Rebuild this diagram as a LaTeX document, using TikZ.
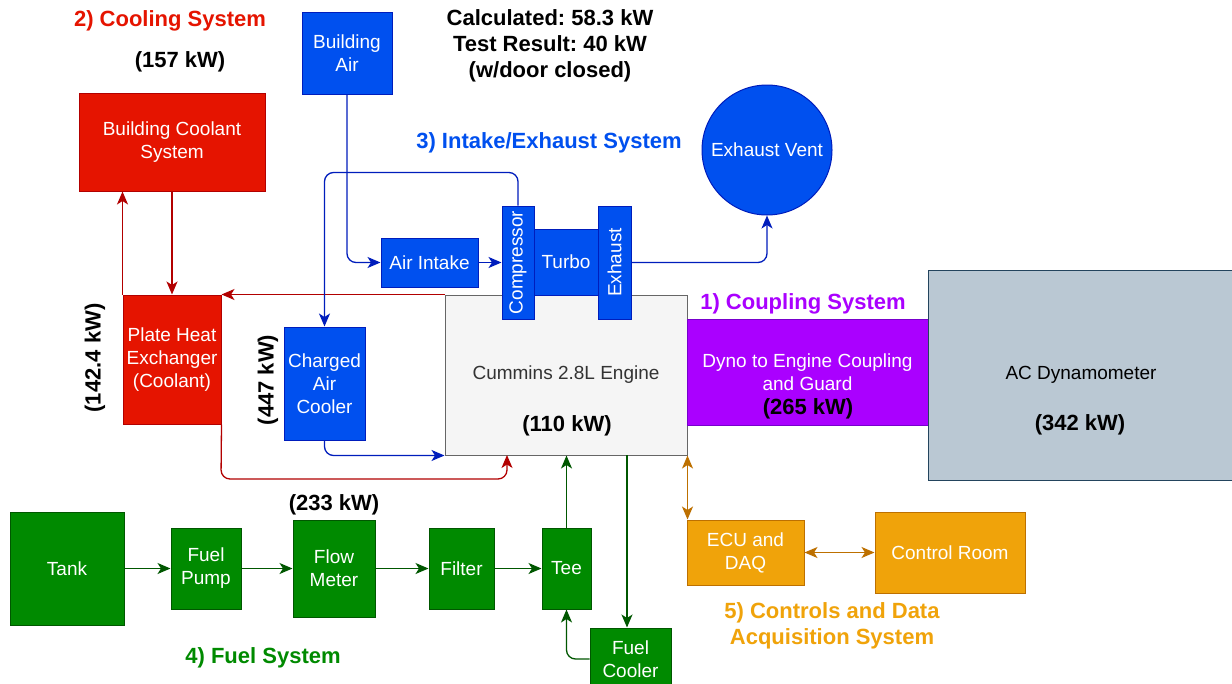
\documentclass[tikz,border=0pt]{standalone}
\usepackage{fontspec}
\setmainfont{Liberation Sans}
\usepackage{graphicx}
\usetikzlibrary{arrows.meta,positioning}
\definecolor{coolfill}{HTML}{E51400}
\definecolor{coolline}{HTML}{B20000}
\definecolor{airfill}{HTML}{0050EF}
\definecolor{airline}{HTML}{001DBC}
\definecolor{fuelfill}{HTML}{008A00}
\definecolor{fuelline}{HTML}{005700}
\definecolor{ctrlfill}{HTML}{F0A30A}
\definecolor{ctrlline}{HTML}{BD7000}
\definecolor{coupfill}{HTML}{AA00FF}
\definecolor{coupline}{HTML}{7700CC}
\definecolor{engfill}{HTML}{F5F5F5}
\definecolor{engline}{HTML}{666666}
\definecolor{engtext}{HTML}{333333}
\definecolor{dynofill}{HTML}{BAC8D3}
\definecolor{dynoline}{HTML}{23445D}
\newcommand{\BoxFont}{\fontsize{19}{23}\selectfont}
\newcommand{\HeadFont}{\fontsize{22}{26}\selectfont\bfseries}
\frenchspacing

\begin{document}
\begin{tikzpicture}[x=1pt,y=-1pt
        ,box/.style = {draw,rectangle,line width=1pt,inner sep=2pt,align=center,font=\BoxFont,text=white}
        ,coolbox/.style = {box,fill=coolfill,draw=coolline}
        ,airbox/.style = {box,fill=airfill,draw=airline}
        ,fuelbox/.style = {box,fill=fuelfill,draw=fuelline}
        ,ctrlbox/.style = {box,fill=ctrlfill,draw=ctrlline}
        ,flow/.style = {-{Stealth[length=13pt,width=11pt,inset=3.5pt]},line width=1.3pt,rounded corners=9pt}
        ,both/.style = {{Stealth[length=13pt,width=11pt,inset=3.5pt]}-{Stealth[length=13pt,width=11pt,inset=3.5pt]},line width=1.3pt}
        ,legend/.style = {font=\HeadFont,align=center}
      ]
      \path[use as bounding box,fill=white] (0,0) rectangle (1232,683);

      % 2) cooling
      \node[legend,text=coolfill](cooltitle) at (170,21) {2) Cooling System};
      \node[legend](coolkw) at (180,62) {(157 kW)};
      \node[coolbox,minimum width=186pt,minimum height=98pt](coolant) at (172,142) {Building Coolant\\System};
      \node[coolbox,minimum width=98pt,minimum height=129pt](phe) at (172,359.5) {Plate Heat\\Exchanger\\(Coolant)};
      \node[legend,rotate=90](phekw) at (95,358) {(142.4 kW)};

      % engine, coupling, dyno
      \node[box,fill=engfill,draw=engline,text=engtext,minimum width=242pt,minimum height=160pt](engine) at (566,375) {Cummins 2.8L Engine};
      \node[legend](engkw) at (567,426) {(110 kW)};
      \node[legend,text=coupfill](couptitle) at (803,304) {1) Coupling System};
      \node[box,fill=coupfill,draw=coupline,minimum width=241pt,minimum height=106pt](coupling) at (807.5,372) {Dyno to Engine Coupling\\and Guard};
      \node[legend](coupkw) at (808,409) {(265 kW)};
      \node[box,fill=dynofill,draw=dynoline,text=black,minimum width=306pt,minimum height=210pt](dyno) at (1081,375) {AC Dynamometer};
      \node[legend](dynokw) at (1080,425) {(342 kW)};

      % 3) intake/exhaust
      \node[airbox,minimum width=90pt,minimum height=82pt](bair) at (347,53) {Building\\Air};
      \node[legend](airnote) at (550,46) {Calculated: 58.3 kW\\Test Result: 40 kW\\(w/door closed)};
      \node[legend,text=airfill](airtitle) at (549,143) {3) Intake/Exhaust System};
      \node[airbox,minimum width=97pt,minimum height=49pt](intake) at (429.5,262.5) {Air Intake};
      \node[airbox,minimum width=64pt,minimum height=66pt](turbo) at (566,262) {Turbo};
      \node[airbox,minimum width=32pt,minimum height=113pt](comp) at (518,262.5) {\rotatebox{90}{Compressor}};
      \node[airbox,minimum width=33pt,minimum height=113pt](exh) at (614.5,262.5) {\rotatebox{90}{Exhaust}};
      \node[airbox,circle,minimum size=130pt](vent) at (767,150) {Exhaust Vent};
      \node[airbox,minimum width=81pt,minimum height=113pt](cac) at (324.5,383.5) {Charged\\Air\\Cooler};
      \node[legend,rotate=90](cackw) at (268,380) {(447 kW)};

      % 4) fuel
      \node[fuelbox,minimum width=114pt,minimum height=113pt](tank) at (67,568.5) {Tank};
      \node[fuelbox,minimum width=70pt,minimum height=81pt](pump) [right=46pt of tank] {Fuel\\Pump};
      \node[fuelbox,minimum width=82pt,minimum height=97pt](meter) [right=51pt of pump] {Flow\\Meter};
      \node[legend](meterkw) at (334,505) {(233 kW)};
      \node[fuelbox,minimum width=65pt,minimum height=81pt](filter) [right=53pt of meter] {Filter};
      \node[fuelbox,minimum width=49pt,minimum height=81pt](tee) [right=47pt of filter] {Tee};
      \node[fuelbox,minimum width=81pt,minimum height=62pt](fcool) at (630.5,659) {Fuel\\Cooler};
      \node[legend,text=fuelfill](fueltitle) at (263,658) {4) Fuel System};

      % 5) controls
      \node[ctrlbox,minimum width=117pt,minimum height=65pt](ecu) at (745.5,552.5) {ECU and\\DAQ};
      \node[ctrlbox,minimum width=150pt,minimum height=81pt](croom) at (950,552.5) {Control Room};
      \node[legend,text=ctrlfill](ctrltitle) at (832,625.5) {5) Controls and Data\\Acquisition System};

      \coordinate(coolret) at (507,455);
      \coordinate(coolbend) at (221,479);
      \coordinate(fuelout) at (627,455);

      % coolant loop
      \draw[flow,coolline] (coolant.south) -- (phe.north);
      \draw[flow,coolline] (phe.north west) -- (phe.north west |- coolant.south);
      \draw[flow,coolline] (engine.north west) -- (phe.north east);
      \draw[flow,coolline] (phe.south east) -- (coolbend) -| (coolret);

      % air path
      \draw[flow,airline] (bair.south) |- (intake.west);
      \draw[flow,airline] (intake.east) -- (comp.west |- intake.east);
      \draw[flow,airline] (comp.north) -- ++(0,-33) -| (cac.north);
      \draw[flow,airline] (cac.south) |- (engine.south west);
      \draw[flow,airline] (exh.east) -| (vent.south);

      % fuel path
      \foreach \a/\b in {tank/pump,pump/meter,meter/filter,filter/tee}
        \draw[flow,fuelline] (\a) -- (\b);
      \draw[flow,fuelline] (tee.north) -- (tee.north |- engine.south);
      \draw[flow,fuelline] (fuelout) -- (fuelout |- fcool.north);
      \draw[flow,fuelline] (fcool.west) -| (tee.south);

      % controls
      \draw[both,ctrlline] (engine.south east) -- (engine.south east |- ecu.north);
      \draw[both,ctrlline] (ecu.east) -- (croom.west);
    \end{tikzpicture}
\end{document}
